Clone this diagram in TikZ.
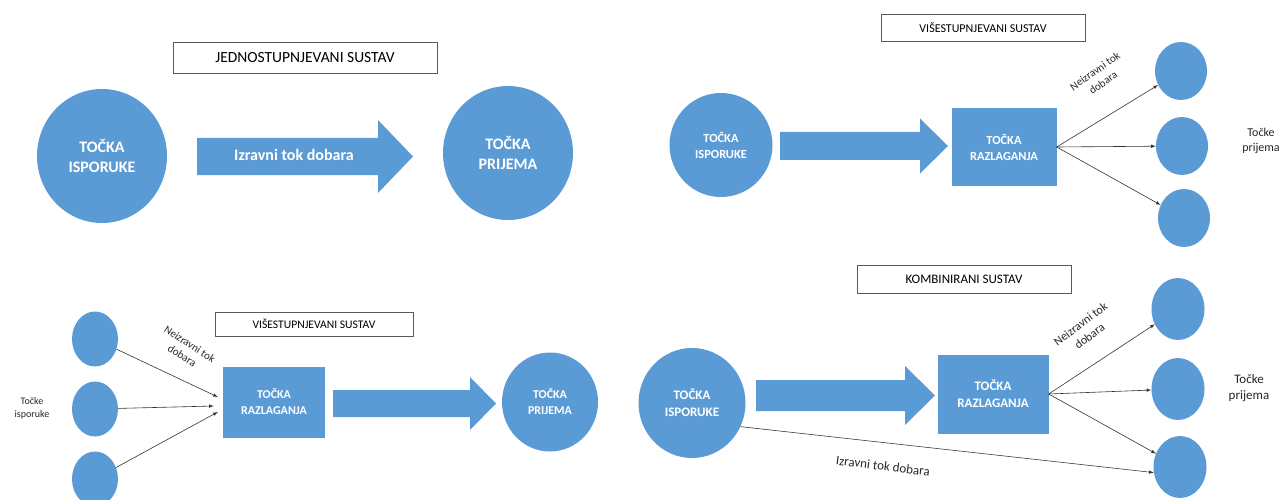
\documentclass[tikz,border=0pt]{standalone}
\usepackage{fontspec}
\setmainfont{Carlito}
\usetikzlibrary{shapes.geometric}
\definecolor{plava}{HTML}{5B9BD5}
% block arrow: x start, x end of body, y middle, half body, half head, tip x
\newcommand{\blokstrelica}[6]{%
  \fill[plava] (#1,#3-#4) -- (#2,#3-#4) -- (#2,#3-#5) -- (#6,#3)
    -- (#2,#3+#5) -- (#2,#3+#4) -- (#1,#3+#4) -- cycle;}
\newcommand{\vel}[2]{\fontsize{#1}{#2}\selectfont}

\begin{document}
\begin{tikzpicture}[x=1pt,y=-1pt,
  krug/.style={ellipse,fill=plava,text=white,align=center,inner sep=0pt},
  kutija/.style={rectangle,fill=plava,text=white,align=center,inner sep=0pt},
  naslov/.style={draw=black!65,line width=0.8pt,fill=white,inner sep=0pt},
  tok/.style={->,>=latex,black!80,line width=0.6pt},
  oznaka/.style={align=center,inner sep=0pt,text=black!85}]
\useasboundingbox (0,0) rectangle (1285,500);

% jednostupnjevani sustav
\node[naslov,minimum width=264,minimum height=31,font=\vel{15.5}{18}] (naslov1) at (305,58) {JEDNOSTUPNJEVANI SUSTAV};
\node[krug,minimum width=130,minimum height=134,font=\bfseries\vel{16}{20}] (isporuka1) at (102,156) {TOČKA\\ISPORUKE};
\node[krug,minimum width=130,minimum height=134,font=\bfseries\vel{16}{20}] (prijem1) at (508,153) {TOČKA\\PRIJEMA};
\blokstrelica{197}{378}{156.5}{18.5}{36.5}{413}
\node[text=white,font=\bfseries\vel{16}{19}] (izravni1) at (294,155) {Izravni tok dobara};

% visestupnjevani sustav (gore)
\node[naslov,minimum width=204,minimum height=27,font=\vel{12}{14}] (naslov2) at (983,28) {VIŠESTUPNJEVANI SUSTAV};
\node[krug,minimum width=103,minimum height=104,font=\bfseries\vel{12.4}{16}] (isporuka2) at (721,145) {TOČKA\\ISPORUKE};
\blokstrelica{780}{920}{146}{14}{27.5}{948}
\node[kutija,minimum width=105,minimum height=77,font=\bfseries\vel{12.4}{16}] (razlaganje2) at (1004,147) {TOČKA\\RAZLAGANJA};
\node[krug,minimum width=52,minimum height=58] (prijem2a) at (1181,71) {};
\node[krug,minimum width=52,minimum height=58] (prijem2b) at (1182,146) {};
\node[krug,minimum width=52,minimum height=58] (prijem2c) at (1184,218) {};
\draw[tok] (razlaganje2.east) -- (prijem2a);
\draw[tok] (razlaganje2.east) -- (prijem2b);
\draw[tok] (razlaganje2.east) -- (prijem2c);
\node[oznaka,rotate=35,font=\vel{11}{14}] (neizravni2) at (1099,77) {Neizravni tok\\dobara};
\node[oznaka,font=\vel{12}{15}] (tocke2) at (1261,141) {Točke\\prijema};

% visestupnjevani sustav (dolje)
\node[naslov,minimum width=198,minimum height=24,font=\vel{11.6}{14}] (naslov3) at (314,324) {VIŠESTUPNJEVANI SUSTAV};
\node[krug,minimum width=46,minimum height=55] (isporuka3a) at (95,339) {};
\node[krug,minimum width=46,minimum height=55] (isporuka3b) at (95,409) {};
\node[krug,minimum width=46,minimum height=55] (isporuka3c) at (95,479) {};
\node[oznaka,font=\vel{10}{13}] (tocke3) at (32,408) {Točke\\isporuke};
\node[kutija,minimum width=102,minimum height=71,font=\bfseries\vel{12}{16}] (razlaganje3) at (274,402) {TOČKA\\RAZLAGANJA};
\draw[tok] (isporuka3a) -- ([xshift=-5pt,yshift=5pt]razlaganje3.west);
\draw[tok] (isporuka3b) -- ([xshift=-9pt,yshift=-4pt]razlaganje3.west);
\draw[tok] (isporuka3c) -- ([xshift=-5pt,yshift=-10pt]razlaganje3.west);
\node[oznaka,rotate=-33,font=\vel{11}{14}] (neizravni3) at (186,350) {Neizravni tok\\dobara};
\blokstrelica{333}{470}{403.5}{13.5}{26.5}{496}
\node[krug,minimum width=96,minimum height=99,font=\bfseries\vel{12}{16}] (prijem3) at (550,402) {TOČKA\\PRIJEMA};

% kombinirani sustav
\node[naslov,minimum width=214,minimum height=28,font=\vel{13}{15}] (naslov4) at (964,279) {KOMBINIRANI SUSTAV};
\node[krug,minimum width=107,minimum height=110,font=\bfseries\vel{13}{17}] (isporuka4) at (692,403) {TOČKA\\ISPORUKE};
\blokstrelica{756}{905}{395.5}{15.5}{29.5}{935}
\node[kutija,minimum width=111,minimum height=79,font=\bfseries\vel{13}{17}] (razlaganje4) at (993,394) {TOČKA\\RAZLAGANJA};
\node[krug,minimum width=53,minimum height=62] (prijem4a) at (1178,309) {};
\node[krug,minimum width=53,minimum height=62] (prijem4b) at (1178,389) {};
\node[krug,minimum width=53,minimum height=62] (prijem4c) at (1180,467) {};
\draw[tok] (razlaganje4.east) -- (prijem4a);
\draw[tok] (razlaganje4.east) -- (prijem4b);
\draw[tok] (razlaganje4.east) -- (prijem4c);
\draw[tok] (isporuka4.-26) -- (prijem4c.192);
\node[oznaka,rotate=37,font=\vel{12}{15}] (neizravni4) at (1085,330) {Neizravni tok\\dobara};
\node[oznaka,font=\vel{13}{16}] (tocke4) at (1249,388) {Točke\\prijema};
\node[oznaka,rotate=-7,font=\vel{13}{15}] (izravni4) at (883,466) {Izravni tok dobara};
\end{tikzpicture}
\end{document}
